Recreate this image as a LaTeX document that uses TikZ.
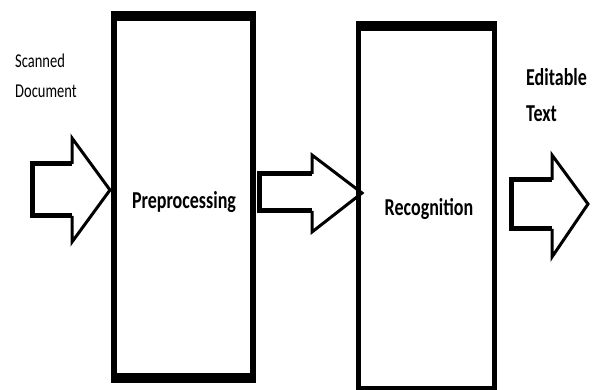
\documentclass[tikz,border=0pt]{standalone}
\usepackage{fontspec}
\setmainfont{Carlito}
\newcommand{\vstretch}[1]{\scalebox{1}[1.35]{#1}}
\begin{document}
\begin{tikzpicture}[x=1pt,y=-1pt,
  lbl/.style={inner sep=0pt,anchor=base,font=\fontsize{18}{22}\selectfont\bfseries},
  sidelbl/.style={inner sep=0pt,anchor=base west,font=\fontsize{14.5}{18}\selectfont},
  outlbl/.style={inner sep=0pt,anchor=base west,font=\fontsize{18}{22}\selectfont\bfseries},
  thin arrow/.style={line width=3pt,line join=miter},
  thick shaft/.style={line width=5pt,line join=miter}]
\useasboundingbox (0,0) rectangle (598,390);
% box 1
\fill (111,11) rectangle (256,383);
\fill[white] (117,21) rectangle (250,373);
\node[lbl] (pre) at (184,209) {\vstretch{Preprocessing}};
% box 2
\fill (356,21) rectangle (497,390);
\fill[white] (361,31) rectangle (492,386);
\node[lbl] (rec) at (429,216) {\vstretch{Recognition}};
% labels
\node[sidelbl] (scan1) at (15,68) {\vstretch{Scanned}};
\node[sidelbl] (scan2) at (15,98) {\vstretch{Document}};
\node[outlbl] (edit1) at (526,86) {\vstretch{Editable}};
\node[outlbl] (edit2) at (526,122) {\vstretch{Text}};
% arrow 1
\draw[thin arrow] (72,164) -- (72,138) -- (110,190) -- (72,242) -- (72,216);
\draw[thick shaft] (72,164) -- (32,164) -- (32,216) -- (72,216);
% arrow 2
\draw[thin arrow] (312,174) -- (312,155) -- (362,193) -- (312,232) -- (312,211);
\draw[thick shaft] (312,174) -- (259,174) -- (259,211) -- (312,211);
% arrow 3
\draw[thin arrow] (552,180) -- (552,155) -- (588,204) -- (552,257) -- (552,229);
\draw[thick shaft] (552,180) -- (511,180) -- (511,229) -- (552,229);
\end{tikzpicture}
\end{document}
